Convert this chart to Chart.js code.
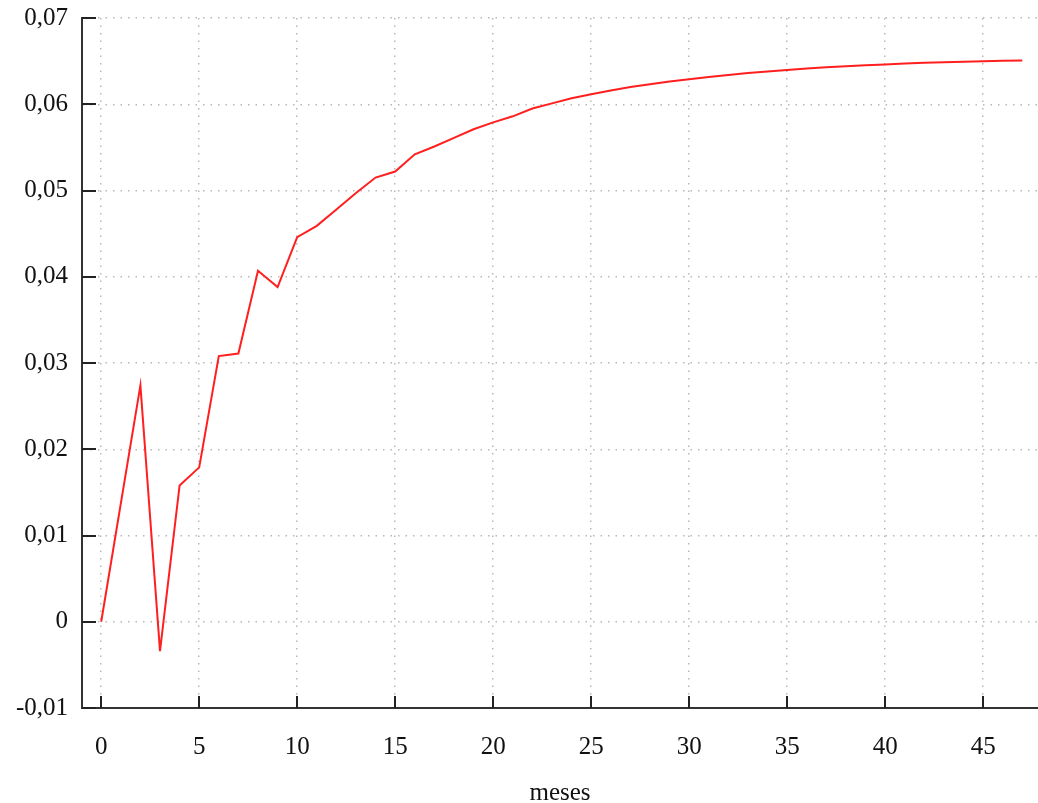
<!DOCTYPE html>
<html>
<head>
<meta charset="utf-8">
<script src="https://cdn.jsdelivr.net/npm/chart.js@4/dist/chart.umd.min.js"></script>
<style>
  html, body { margin: 0; padding: 0; background: #fff; }
  #wrap { width: 1038px; height: 803px; }
</style>
</head>
<body>
<div id="wrap"><canvas id="c" width="1038" height="803"></canvas></div>
<script>
// Months since start
const months = [
  0, 1, 2, 3, 4, 5, 6, 7, 8, 9,
  10, 11, 12, 13, 14, 15, 16, 17, 18, 19,
  20, 21, 22, 23, 24, 25, 26, 27, 28, 29,
  30, 31, 32, 33, 34, 35, 36, 37, 38, 39,
  40, 41, 42, 43, 44, 45, 46, 47
];

// Cumulative response per month
const response = [
  0.0000, 0.0137, 0.0274, -0.0034, 0.0158, 0.0179, 0.0308, 0.0311, 0.0407, 0.0388,
  0.0446, 0.0459, 0.0478, 0.0497, 0.0515, 0.0522, 0.0542, 0.0551, 0.0561, 0.0571,
  0.0579, 0.0586, 0.0595, 0.0601, 0.0607, 0.06116, 0.0616, 0.0620, 0.06232, 0.06263,
  0.06290, 0.06317, 0.06340, 0.06361, 0.06380, 0.06398, 0.06414, 0.06428, 0.06441, 0.06452,
  0.06462, 0.06472, 0.06481, 0.06488, 0.06494, 0.06499, 0.06504, 0.06508
];

// Axis tick values
const xTicks = [0, 5, 10, 15, 20, 25, 30, 35, 40, 45];
const yTicks = [-0.01, 0, 0.01, 0.02, 0.03, 0.04, 0.05, 0.06, 0.07];

const points = months.map((m, i) => ({ x: m, y: response[i] }));

const serif = "'Liberation Serif', 'DejaVu Serif', serif";
const axisColor = '#333';
const gridColor = '#b8b8b8';

function fmtY(v) {
  const r = Math.round(v * 100) / 100;
  if (r === 0) return '0';
  return r.toFixed(2).replace('.', ',');
}

// Short tick marks pointing into the plot area
const innerTicks = {
  id: 'innerTicks',
  afterDatasetsDraw(chart) {
    const { ctx, chartArea, scales } = chart;
    ctx.save();
    ctx.strokeStyle = '#222';
    ctx.lineWidth = 2;
    ctx.beginPath();
    xTicks.forEach(v => {
      const px = Math.round(scales.x.getPixelForValue(v));
      ctx.moveTo(px, chartArea.bottom);
      ctx.lineTo(px, chartArea.bottom - 12);
    });
    yTicks.forEach(v => {
      const py = Math.round(scales.y.getPixelForValue(v));
      ctx.moveTo(chartArea.left, py);
      ctx.lineTo(chartArea.left + 14, py);
    });
    ctx.stroke();
    ctx.restore();
  }
};

new Chart(document.getElementById('c'), {
  type: 'line',
  data: {
    datasets: [{
      data: points,
      borderColor: '#ff1f1f',
      borderWidth: 2,
      pointRadius: 0,
      tension: 0,
      fill: false
    }]
  },
  options: {
    responsive: false,
    devicePixelRatio: 1,
    animation: false,
    layout: { padding: { top: 18, right: 0, bottom: 0, left: 0 } },
    plugins: { legend: { display: false }, tooltip: { enabled: false } },
    scales: {
      x: {
        type: 'linear',
        min: -0.98,
        max: 47.8,
        afterBuildTicks(scale) { scale.ticks = xTicks.map(v => ({ value: v })); },
        afterFit(scale) {
          scale.height = 95;
          scale.paddingLeft = 0;
          scale.paddingRight = 0;
        },
        ticks: {
          font: { family: serif, size: 25 },
          color: '#111',
          padding: 24,
          maxRotation: 0
        },
        grid: {
          color: gridColor,
          lineWidth: 1.5,
          drawTicks: false
        },
        border: { color: axisColor, width: 2, dash: [1.5, 6] },
        title: {
          display: true,
          text: 'meses',
          font: { family: serif, size: 25 },
          color: '#111',
          padding: { top: 16, bottom: -5 }
        }
      },
      y: {
        type: 'linear',
        min: -0.01,
        max: 0.07,
        afterBuildTicks(scale) { scale.ticks = yTicks.map(v => ({ value: v })); },
        afterFit(scale) {
          scale.width = 82;
          scale.paddingTop = 0;
          scale.paddingBottom = 0;
        },
        ticks: {
          font: { family: serif, size: 25 },
          color: '#111',
          padding: 14,
          callback: v => fmtY(v)
        },
        grid: {
          color: gridColor,
          lineWidth: 1.5,
          drawTicks: false
        },
        border: { color: axisColor, width: 2, dash: [1.5, 6] }
      }
    }
  },
  plugins: [innerTicks]
});
</script>
</body>
</html>
